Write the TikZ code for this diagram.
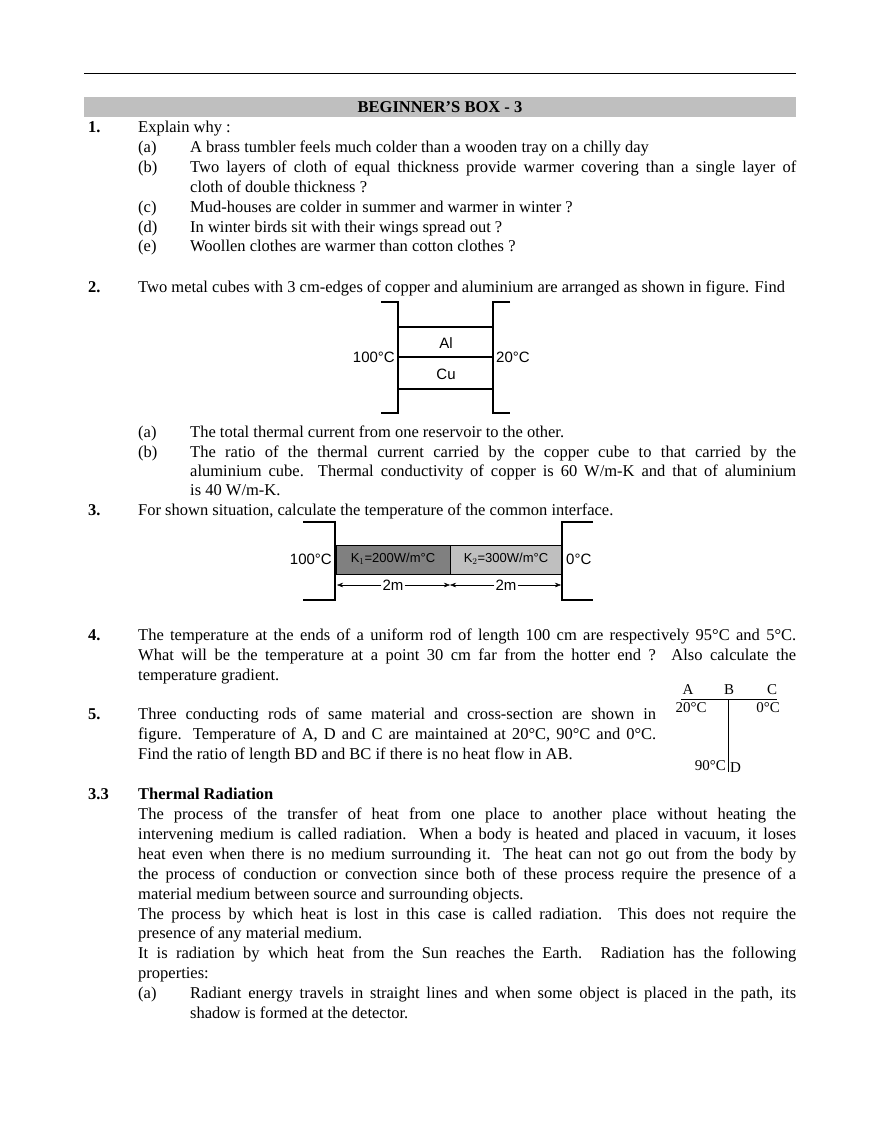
\documentclass[tikz,border=0pt]{standalone}
\usepackage{fontspec}
\setmainfont{Liberation Serif}
\newfontfamily\figsans{Liberation Sans}
\usetikzlibrary{arrows.meta}
\begin{document}
\begin{tikzpicture}[x=1pt,y=-1pt,
  t/.style={anchor=base west,inner sep=0pt,font=\fontsize{16.5}{20}\selectfont},
  n/.style={t,font=\fontsize{16.5}{20}\selectfont\bfseries},
  fl/.style={inner sep=1pt,font=\figsans\fontsize{15}{17}\selectfont},
  fr/.style={inner sep=1pt,font=\fontsize{15}{17}\selectfont},
  ln/.style={line width=1.1pt}]
\useasboundingbox (0,0) rectangle (880,1139);
\fill[white] (0,0) rectangle (880,1139);
% header
\draw[line width=0.6pt] (84,73) -- (796,73);
\fill[black!25] (84,97) rectangle (796,117);
\node[n,anchor=base] (hd) at (440,113) {BEGINNER’S BOX - 3};
% Q1
\node[n] (q1) at (88,133) {1.};
\node[t] (q1t) at (138,133) {Explain why :};
\node[t] (q1a) at (138,153) {(a)};
\node[t] (q1at) at (190,153) {A brass tumbler feels much colder than a wooden tray on a chilly day};
\node[t] (q1b) at (138,173) {(b)};
\node[t] (q1bt) at (190,173) {\makebox[606pt][s]{Two layers of cloth of equal thickness provide warmer covering than a single layer of}};
\node[t] (q1bt2) at (190,193) {cloth of double thickness ?};
\node[t] (q1c) at (138,213) {(c)};
\node[t] (q1ct) at (190,213) {Mud-houses are colder in summer and warmer in winter ?};
\node[t] (q1d) at (138,233) {(d)};
\node[t] (q1dt) at (190,233) {In winter birds sit with their wings spread out ?};
\node[t] (q1e) at (138,252) {(e)};
\node[t] (q1et) at (190,252) {Woollen clothes are warmer than cotton clothes ?};
% Q2
\node[n] (q2) at (88,292) {2.};
\node[t] (q2t) at (138,292) {Two metal cubes with 3 cm-edges of copper and aluminium are arranged as shown in figure. Find};
% fig 2
\coordinate (a1) at (381,302); \coordinate (a2) at (398,302);
\coordinate (a3) at (398,413); \coordinate (a4) at (381,413);
\draw[ln] (a1) -- (a2) -- (a3) -- (a4);
\coordinate (b1) at (510,302); \coordinate (b2) at (493,302);
\coordinate (b3) at (493,413); \coordinate (b4) at (510,413);
\draw[ln] (b1) -- (b2) -- (b3) -- (b4);
\coordinate (h1l) at (398,327); \coordinate (h1r) at (493,327);
\coordinate (h2l) at (398,357); \coordinate (h2r) at (493,357);
\coordinate (h3l) at (398,389); \coordinate (h3r) at (493,389);
\draw[ln] (h1l) -- (h1r); \draw[ln] (h2l) -- (h2r); \draw[ln] (h3l) -- (h3r);
\node[fl] (al) at (446,343) {Al};
\node[fl] (cu) at (446,374) {Cu};
\node[fl,anchor=east] (t100) at (396,357) {100°C};
\node[fl,anchor=west] (t20) at (495,357) {20°C};
% Q2 parts
\node[t] (q2a) at (138,437) {(a)};
\node[t] (q2at) at (190,437) {The total thermal current from one reservoir to the other.};
\node[t] (q2b) at (138,457) {(b)};
\node[t] (q2bt) at (190,457) {\makebox[606pt][s]{The ratio of the thermal current carried by the copper cube to that carried by the}};
\node[t] (q2bt2) at (190,476) {\makebox[606pt][s]{aluminium cube. Thermal conductivity of copper is 60 W/m-K and that of aluminium}};
\node[t] (q2bt3) at (190,495) {is 40 W/m-K.};
% Q3
\node[n] (q3) at (88,515) {3.};
\node[t] (q3t) at (138,515) {For shown situation, calculate the temperature of the common interface.};
% fig 3
\coordinate (c1) at (303,522); \coordinate (c2) at (335,522);
\coordinate (c3) at (335,600); \coordinate (c4) at (303,600);
\draw[ln] (c1) -- (c2) -- (c3) -- (c4);
\coordinate (d1) at (593,522); \coordinate (d2) at (562,522);
\coordinate (d3) at (562,600); \coordinate (d4) at (593,600);
\draw[ln] (d1) -- (d2) -- (d3) -- (d4);
\fill[black!50] (336,545) rectangle (450,574);
\fill[black!25] (450,545) rectangle (561,574);
\draw[line width=0.8pt] (336,545) rectangle (561,574);
\draw[line width=0.8pt] (450,545) -- (450,574);
\node[fl,font=\figsans\fontsize{13}{15}\selectfont] (k1) at (393,559) {K$_1$=200W/m°C};
\node[fl,font=\figsans\fontsize{13}{15}\selectfont] (k2) at (506,559) {K$_2$=300W/m°C};
\node[fl,anchor=east] (u100) at (333,559) {100°C};
\node[fl,anchor=west] (u0) at (565,559) {0°C};
\coordinate (e1) at (337,585); \coordinate (e2) at (450,585); \coordinate (e3) at (561,585);
\node[fl,fill=white,inner sep=1pt] (m1) at (393,585) {2m};
\node[fl,fill=white,inner sep=1pt] (m2) at (506,585) {2m};
\draw[-{Stealth[length=6pt]}] (m1) -- (e1);
\draw[-{Stealth[length=6pt]}] (m1) -- (e2);
\draw[-{Stealth[length=6pt]}] (m2) -- (e2);
\draw[-{Stealth[length=6pt]}] (m2) -- (e3);
% Q4
\node[n] (q4) at (88,640) {4.};
\node[t] (q4t) at (138,640) {\makebox[658pt][s]{The temperature at the ends of a uniform rod of length 100 cm are respectively 95°C and 5°C.}};
\node[t] (q4t2) at (138,660) {\makebox[658pt][s]{What will be the temperature at a point 30 cm far from the hotter end ? Also calculate the}};
\node[t] (q4t3) at (138,680) {temperature gradient.};
% Q5
\node[n] (q5) at (88,719) {5.};
\node[t] (q5t) at (138,719) {\makebox[518pt][s]{Three conducting rods of same material and cross-section are shown in}};
\node[t] (q5t2) at (138,739) {\makebox[518pt][s]{figure. Temperature of A, D and C are maintained at 20°C, 90°C and 0°C.}};
\node[t] (q5t3) at (138,759) {Find the ratio of length BD and BC if there is no heat flow in AB.};
% fig 5
\coordinate (pA) at (681,699); \coordinate (pC) at (777,699);
\coordinate (pB) at (728,699); \coordinate (pD) at (728,772);
\draw[line width=0.9pt] (pA) -- (pC);
\draw[line width=0.9pt] (pB) -- (pD);
\node[fr] (lA) at (688,690) {A};
\node[fr] (lB) at (729,690) {B};
\node[fr] (lC) at (772,690) {C};
\node[fr] (lt20) at (691,708) {20°C};
\node[fr] (lt0) at (768,708) {0°C};
\node[fr,anchor=east] (lt90) at (727,766) {90°C};
\node[fr,anchor=west] (lD) at (729,768) {D};
% 3.3
\node[n] (s33) at (88,799) {3.3};
\node[n] (s33t) at (138,799) {Thermal Radiation};
\node[t] (p1) at (138,819) {\makebox[658pt][s]{The process of the transfer of heat from one place to another place without heating the}};
\node[t] (p2) at (138,839) {\makebox[658pt][s]{intervening medium is called radiation. When a body is heated and placed in vacuum, it loses}};
\node[t] (p3) at (138,859) {\makebox[658pt][s]{heat even when there is no medium surrounding it. The heat can not go out from the body by}};
\node[t] (p4) at (138,879) {\makebox[658pt][s]{the process of conduction or convection since both of these process require the presence of a}};
\node[t] (p5) at (138,899) {material medium between source and surrounding objects.};
\node[t] (p6) at (138,919) {\makebox[658pt][s]{The process by which heat is lost in this case is called radiation. This does not require the}};
\node[t] (p7) at (138,938) {presence of any material medium.};
\node[t] (p8) at (138,958) {\makebox[658pt][s]{It is radiation by which heat from the Sun reaches the Earth. Radiation has the following}};
\node[t] (p9) at (138,978) {properties:};
\node[t] (ra) at (138,998) {(a)};
\node[t] (rat) at (190,998) {\makebox[606pt][s]{Radiant energy travels in straight lines and when some object is placed in the path, its}};
\node[t] (rat2) at (190,1018) {shadow is formed at the detector.};
\end{tikzpicture}
\end{document}
